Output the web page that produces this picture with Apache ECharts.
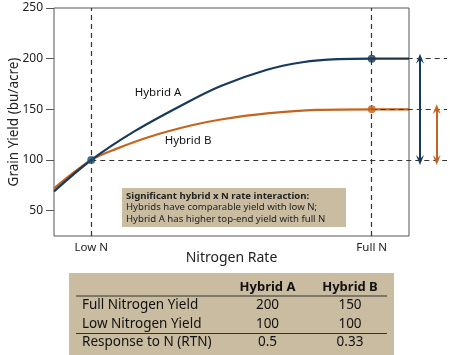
<!DOCTYPE html>
<html><head><meta charset="utf-8">
<script src="https://cdn.jsdelivr.net/npm/echarts@6/dist/echarts.min.js"></script>
<style>html,body{margin:0;padding:0;background:#fff}#c{width:450px;height:355px}</style>
</head><body><div id="c"></div>
<script>
// ---- data ----
const nRateA = [0, 21, 45, 73, 94, 120, 140, 160, 179, 200];
const hybridA = [69, 100, 128, 155, 173, 189, 196.5, 199.5, 200, 200];
const nRateB = [0, 21, 35, 54, 77, 94, 120, 148, 179, 200];
const hybridB = [72, 100, 111, 123, 134, 140, 146, 149.5, 150, 150];
const nLevels = [21, 179];
const nLabels = ['Low N', 'Full N'];
const yTicks = [50, 100, 150, 200, 250];
const tableCols = ['Hybrid A', 'Hybrid B'];
const tableRows = ['Full Nitrogen Yield', 'Low Nitrogen Yield', 'Response to N (RTN)'];
const fullNYield = [200, 150];
const lowNYield = [100, 100];
const rtn = ['0.5', '0.33'];
const noteTitle = 'Significant hybrid x N rate interaction:';
const noteLines = ['Hybrids have comparable yield with low N;', 'Hybrid A has higher top-end yield with full N'];

// ---- style ----
const colA = '#17395b';
const colB = '#c4641f';
const dashCol = '#333';
const FONT = 'Noto Sans';
const ext = 200 * 393 / 355;

const chart = echarts.init(document.getElementById('c'), null, {renderer: 'canvas'});
const zipA = nRateA.map((x, i) => [x, hybridA[i]]);
const zipB = nRateB.map((x, i) => [x, hybridB[i]]);
const dashStyle = {color: dashCol, width: 1.2, type: [5, 4]};

const tableY = [305.5, 324, 342.5];
const tableVals = [fullNYield, lowNYield, rtn];
const colX = [267.5, 350];
const noteFont = '9.6px "' + FONT + '"';
const graphics = [
  {type: 'rect', shape: {x: 122, y: 188, width: 224, height: 39}, style: {fill: '#c9bca1'}, z: 1},
  {type: 'text', x: 126, y: 196, style: {text: noteTitle, font: 'bold ' + noteFont, fill: '#222', verticalAlign: 'middle'}, z: 2},
  {type: 'text', x: 126, y: 207.5, style: {text: noteLines[0], font: noteFont, fill: '#222', verticalAlign: 'middle'}, z: 2},
  {type: 'text', x: 126, y: 219, style: {text: noteLines[1], font: noteFont, fill: '#222', verticalAlign: 'middle'}, z: 2},
  {type: 'text', x: 158, y: 93, style: {text: 'Hybrid A', font: '11.5px "' + FONT + '"', fill: '#111', align: 'center', verticalAlign: 'middle'}, z: 2},
  {type: 'text', x: 188, y: 141, style: {text: 'Hybrid B', font: '11.5px "' + FONT + '"', fill: '#111', align: 'center', verticalAlign: 'middle'}, z: 2},
  {type: 'rect', shape: {x: 69, y: 273, width: 325, height: 85}, style: {fill: '#c9bca1'}, z: 1},
  {type: 'line', shape: {x1: 76, y1: 296, x2: 387, y2: 296}, style: {stroke: '#333', lineWidth: 1.2}, z: 2},
  {type: 'line', shape: {x1: 76, y1: 333.5, x2: 387, y2: 333.5}, style: {stroke: '#333', lineWidth: 1.2}, z: 2}
];
tableCols.forEach((c, j) => graphics.push({type: 'text', x: colX[j], y: 287.5, style: {text: c, font: 'bold 13px "' + FONT + '"', fill: '#111', align: 'center', verticalAlign: 'middle'}, z: 2}));
tableRows.forEach((r, i) => {
  graphics.push({type: 'text', x: 82, y: tableY[i], style: {text: r, font: '13.5px "' + FONT + '"', fill: '#111', verticalAlign: 'middle'}, z: 2});
  tableVals[i].forEach((v, j) => graphics.push({type: 'text', x: colX[j], y: tableY[i], style: {text: String(v), font: '13.5px "' + FONT + '"', fill: '#111', align: 'center', verticalAlign: 'middle'}, z: 2}));
});

const arrowSym = 'path://M0,10 L5,0 L10,10 L5,6 Z';

chart.setOption({
  animation: false,
  textStyle: {fontFamily: FONT},
  grid: [
    {left: 54, top: 8, width: 355, height: 228, show: true, borderColor: '#555', borderWidth: 1, backgroundColor: 'transparent', containLabel: false, outerBoundsMode: 'none'},
    {left: 54, top: 8, width: 393, height: 228, show: false, containLabel: false, outerBoundsMode: 'none'}
  ],
  xAxis: [
    {type: 'value', gridIndex: 0, min: 0, max: 200, splitLine: {show: false}, axisLine: {show: false},
     axisTick: {show: false},
     axisLabel: {customValues: nLevels, formatter: v => nLabels[nLevels.indexOf(v)] || '', color: '#222', fontSize: 11.5, margin: 6, fontFamily: FONT},
     name: 'Nitrogen Rate', nameLocation: 'middle', nameGap: 15, nameMoveOverlap: false,
     nameTextStyle: {fontSize: 14, color: '#222', fontFamily: FONT, verticalAlign: 'top'}},
    {type: 'value', gridIndex: 1, min: 0, max: ext, show: false}
  ],
  yAxis: [
    {type: 'value', gridIndex: 0, min: 25, max: 250, splitLine: {show: false}, axisLine: {show: false},
     axisTick: {show: true, customValues: yTicks, length: 8, lineStyle: {color: '#555'}},
     axisLabel: {customValues: yTicks, color: '#222', fontSize: 12, margin: 11, fontFamily: FONT},
     name: 'Grain Yield (bu/acre)', nameLocation: 'middle', nameGap: 33, nameMoveOverlap: false,
     nameTextStyle: {fontSize: 13.5, color: '#222', fontFamily: FONT, verticalAlign: 'bottom'}},
    {type: 'value', gridIndex: 1, min: 25, max: 250, show: false}
  ],
  series: [
    {type: 'line', xAxisIndex: 1, yAxisIndex: 1, data: [], silent: true, z: 1,
     markLine: {silent: true, symbol: ['none', 'none'], label: {show: false}, lineStyle: dashStyle, animation: false,
       data: [
         [{coord: [nLevels[0], lowNYield[0]]}, {coord: [ext, lowNYield[0]]}],
         [{coord: [nLevels[1], fullNYield[0]]}, {coord: [ext, fullNYield[0]]}],
         [{coord: [nLevels[1], fullNYield[1]]}, {coord: [ext, fullNYield[1]]}]
       ]}},
    {type: 'line', xAxisIndex: 0, yAxisIndex: 0, data: [], silent: true, z: 1,
     markLine: {silent: true, symbol: ['none', 'none'], label: {show: false}, lineStyle: dashStyle, animation: false,
       data: [
         [{coord: [nLevels[0], 25]}, {coord: [nLevels[0], 250]}],
         [{coord: [nLevels[1], 25]}, {coord: [nLevels[1], 250]}]
       ]}},
    {type: 'line', xAxisIndex: 1, yAxisIndex: 1, data: [], silent: true, z: 3,
     markLine: {silent: true, symbol: [arrowSym, arrowSym], symbolSize: [8, 10], label: {show: false}, animation: false,
       data: [
         [{coord: [206.2, fullNYield[0]], lineStyle: {color: colA, width: 2, type: 'solid'}}, {coord: [206.2, lowNYield[0]]}],
         [{coord: [215.6, fullNYield[1]], lineStyle: {color: colB, width: 2, type: 'solid'}}, {coord: [215.6, lowNYield[1]]}]
       ]}},
    {name: 'Hybrid B', type: 'line', data: zipB, smooth: 0.35, showSymbol: false, z: 3,
     lineStyle: {color: colB, width: 2.2}},
    {name: 'Hybrid A', type: 'line', data: zipA, smooth: 0.35, showSymbol: false, z: 4,
     lineStyle: {color: colA, width: 2.2}},
    {type: 'scatter', z: 5, symbolSize: 8, silent: true,
     data: [
       {value: [nLevels[0], lowNYield[0]], itemStyle: {color: '#1d4a66'}},
       {value: [nLevels[1], fullNYield[0]], itemStyle: {color: colA}},
       {value: [nLevels[1], fullNYield[1]], itemStyle: {color: colB}}
     ]}
  ],
  graphic: graphics
});
</script></body></html>
